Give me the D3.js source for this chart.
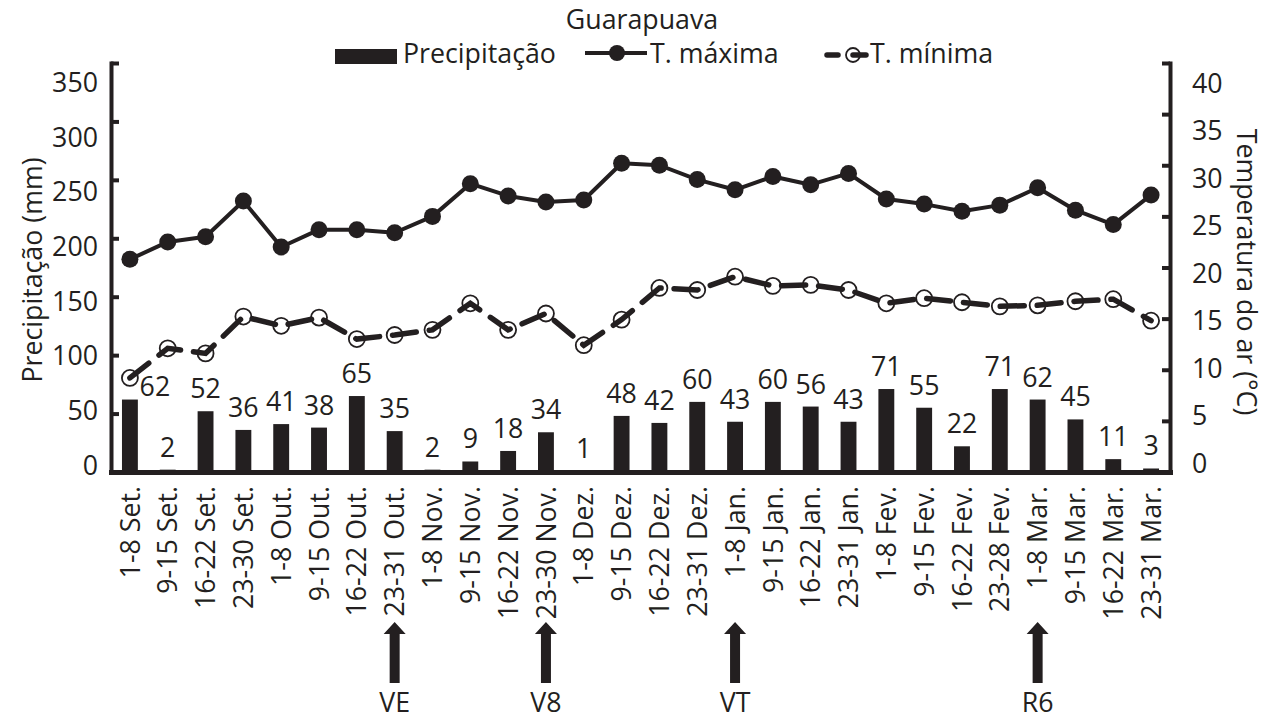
<!DOCTYPE html>
<html>
<head>
<meta charset="utf-8">
<script src="https://cdn.jsdelivr.net/npm/d3@7"></script>
<style>
  html, body { margin: 0; padding: 0; background: #fff; }
  svg { display: block; }
</style>
</head>
<body>
<svg id="chart" width="1273" height="722"></svg>
<script>
const categories = ["1-8 Set.", "9-15 Set.", "16-22 Set.", "23-30 Set.", "1-8 Out.", "9-15 Out.", "16-22 Out.", "23-31 Out.",
  "1-8 Nov.", "9-15 Nov.", "16-22 Nov.", "23-30 Nov.", "1-8 Dez.", "9-15 Dez.", "16-22 Dez.", "23-31 Dez.",
  "1-8 Jan.", "9-15 Jan.", "16-22 Jan.", "23-31 Jan.", "1-8 Fev.", "9-15 Fev.", "16-22 Fev.", "23-28 Fev.",
  "1-8 Mar.", "9-15 Mar.", "16-22 Mar.", "23-31 Mar."];
const precipitacao = [62, 2, 52, 36, 41, 38, 65, 35, 2, 9, 18, 34, 1, 48, 42, 60, 43, 60, 56, 43, 71, 55, 22, 71, 62, 45, 11, 3];
const tMaxima = [20.8, 22.5, 23.0, 26.5, 22.0, 23.7, 23.7, 23.4, 25.0, 28.2, 27.0, 26.4, 26.6, 30.2,
  30.0, 28.6, 27.6, 28.9, 28.1, 29.2, 26.7, 26.2, 25.5, 26.1, 27.8, 25.6, 24.2, 27.1];
const tMinima = [9.2, 12.1, 11.6, 15.2, 14.3, 15.1, 13.0, 13.4, 13.9, 16.5, 13.9, 15.5, 12.4, 14.9,
  18.0, 17.8, 19.1, 18.2, 18.3, 17.8, 16.5, 17.0, 16.6, 16.2, 16.3, 16.7, 16.9, 14.8];
const precipTicks = [0, 50, 100, 150, 200, 250, 300, 350];
const tempTicks = [0, 5, 10, 15, 20, 25, 30, 35, 40];
const stageCategories = ["23-31 Out.", "23-30 Nov.", "1-8 Jan.", "1-8 Mar."];
const stageLabels = ["VE", "V8", "VT", "R6"];
const titleText = "Guarapuava";
const legendLabels = ["Precipitação", "T. máxima", "T. mínima"];
const leftTitle = "Precipitação (mm)";
const rightTitle = "Temperatura do ar (°C)";

const INK = "#231f20";
const FONT = "'Open Sans', 'Noto Sans', sans-serif";
const svg = d3.select("#chart");

// Fit font size so that the text width matches the reference
const probe = svg.append("text").attr("font-family", FONT).attr("font-size", 28).text("Precipitação");
const measured = probe.node().getComputedTextLength();
probe.remove();
const FS = 28 * 153 / measured;

const x = d3.scaleBand().domain(categories).range([111, 1170]).paddingInner(0.58).paddingOuter(0.29);
const cx = d => x(d) + x.bandwidth() / 2;
const yP = d3.scaleLinear().domain([0, 350]).range([472, 63]);
const yT = d3.scaleLinear().domain([0, 40]).range([472, 63]);
const yPLab = d3.scaleLinear().domain([0, 350]).range([465, 82]);
const yTLab = d3.scaleLinear().domain([0, 40]).range([463, 83]);

// Bars
svg.append("g").selectAll("rect").data(precipitacao).join("rect")
  .attr("x", (d, i) => x(categories[i]))
  .attr("width", x.bandwidth())
  .attr("y", d => yP(d))
  .attr("height", d => yP(0) - yP(d))
  .attr("fill", INK);

// Bar value labels
svg.append("g").selectAll("text").data(precipitacao).join("text")
  .attr("x", (d, i) => cx(categories[i]) + (i === 0 ? 25 : 0))
  .attr("y", (d, i) => yP(d) - (i === 0 ? 4 : 13))
  .attr("text-anchor", "middle")
  .attr("font-family", FONT).attr("font-size", FS).attr("fill", INK)
  .text(d => d);

// T máxima line
const lineT = d3.line().x((d, i) => cx(categories[i])).y(d => yT(d));
svg.append("path").datum(tMaxima).attr("d", lineT)
  .attr("fill", "none").attr("stroke", INK).attr("stroke-width", 4).attr("stroke-linejoin", "round");
svg.append("g").selectAll("circle").data(tMaxima).join("circle")
  .attr("cx", (d, i) => cx(categories[i])).attr("cy", d => yT(d)).attr("r", 8.5).attr("fill", INK);

// T mínima line (open circles under a dashed line)
svg.append("g").selectAll("circle").data(tMinima).join("circle")
  .attr("cx", (d, i) => cx(categories[i])).attr("cy", d => yT(d)).attr("r", 8)
  .attr("fill", "#fff").attr("stroke", INK).attr("stroke-width", 1.8);
svg.append("path").datum(tMinima).attr("d", lineT)
  .attr("fill", "none").attr("stroke", INK).attr("stroke-width", 5.5)
  .attr("stroke-dasharray", "24,13").attr("stroke-linecap", "round");

// Left axis
const gL = svg.append("g").attr("transform", "translate(111,0)")
  .call(d3.axisLeft(yP).tickValues(precipTicks).tickSize(-8).tickSizeOuter(0).tickPadding(14));
gL.select(".domain").attr("stroke", INK).attr("stroke-width", 4).attr("stroke-linecap", "square");
gL.selectAll(".tick line").attr("stroke", INK).attr("stroke-width", 4);
gL.selectAll(".tick text").attr("font-family", FONT).attr("font-size", FS).attr("fill", INK)
  .attr("x", -13).attr("y", d => yPLab(d) - yP(d)).attr("dy", "0.35em");

// Right axis
const gR = svg.append("g").attr("transform", "translate(1170,0)")
  .call(d3.axisRight(yT).tickValues(tempTicks).tickSize(-8).tickSizeOuter(0));
gR.select(".domain").attr("stroke", INK).attr("stroke-width", 4).attr("stroke-linecap", "square");
gR.selectAll(".tick line").attr("stroke", INK).attr("stroke-width", 4);
gR.selectAll(".tick text").attr("font-family", FONT).attr("font-size", FS).attr("fill", INK)
  .attr("x", 22).attr("text-anchor", "start").attr("y", d => yTLab(d) - yT(d)).attr("dy", "0.35em");

// Bottom axis
const gB = svg.append("g").attr("transform", "translate(0,472)")
  .call(d3.axisBottom(x).tickSize(0).tickSizeOuter(0));
gB.select(".domain").attr("stroke", INK).attr("stroke-width", 5).attr("stroke-linecap", "square");
gB.selectAll(".tick text")
  .attr("font-family", FONT).attr("font-size", FS).attr("fill", INK)
  .attr("text-anchor", "end")
  .attr("transform", "translate(0,14) rotate(-90)")
  .attr("x", 0).attr("y", 0).attr("dy", "0.36em");

// Stage arrows
const stages = stageCategories.map((c, i) => ({ c, label: stageLabels[i] }));
const gS = svg.append("g");
gS.selectAll("path").data(stages).join("path")
  .attr("d", d => {
    const X = cx(d.c);
    return `M${X},622 L${X + 11},634 L${X + 5},634 L${X + 5},683 L${X - 5},683 L${X - 5},634 L${X - 11},634 Z`;
  })
  .attr("fill", INK);
gS.selectAll("text").data(stages).join("text")
  .attr("x", d => cx(d.c)).attr("y", 712)
  .attr("text-anchor", "middle")
  .attr("font-family", FONT).attr("font-size", FS).attr("fill", INK)
  .text(d => d.label);

// Axis titles
svg.append("text").attr("transform", "translate(33,270) rotate(-90)")
  .attr("text-anchor", "middle").attr("dy", "0.35em")
  .attr("font-family", FONT).attr("font-size", FS).attr("fill", INK).text(leftTitle);
svg.append("text").attr("transform", "translate(1246,272) rotate(90)")
  .attr("text-anchor", "middle").attr("dy", "0.35em")
  .attr("font-family", FONT).attr("font-size", FS).attr("fill", INK).text(rightTitle);

// Title
svg.append("text").attr("x", 642).attr("y", 29).attr("text-anchor", "middle")
  .attr("font-family", FONT).attr("font-size", FS).attr("fill", INK).text(titleText);

// Legend
const gLeg = svg.append("g");
gLeg.append("rect").attr("x", 335).attr("y", 49).attr("width", 62).attr("height", 15).attr("fill", INK);
gLeg.append("text").attr("x", 403).attr("y", 63)
  .attr("font-family", FONT).attr("font-size", FS).attr("fill", INK).text(legendLabels[0]);
gLeg.append("line").attr("x1", 585).attr("x2", 647).attr("y1", 53).attr("y2", 53)
  .attr("stroke", INK).attr("stroke-width", 4);
gLeg.append("circle").attr("cx", 617).attr("cy", 53).attr("r", 8).attr("fill", INK);
gLeg.append("text").attr("x", 650).attr("y", 63)
  .attr("font-family", FONT).attr("font-size", FS).attr("fill", INK).text(legendLabels[1]);
gLeg.append("circle").attr("cx", 853).attr("cy", 55).attr("r", 7)
  .attr("fill", "#fff").attr("stroke", INK).attr("stroke-width", 1.8);
gLeg.append("line").attr("x1", 827).attr("x2", 838).attr("y1", 55).attr("y2", 55)
  .attr("stroke", INK).attr("stroke-width", 5.5).attr("stroke-linecap", "round");
gLeg.append("line").attr("x1", 853).attr("x2", 866).attr("y1", 55).attr("y2", 55)
  .attr("stroke", INK).attr("stroke-width", 5.5).attr("stroke-linecap", "round");
gLeg.append("text").attr("x", 870).attr("y", 63)
  .attr("font-family", FONT).attr("font-size", FS).attr("fill", INK).text(legendLabels[2]);
</script>
</body>
</html>
